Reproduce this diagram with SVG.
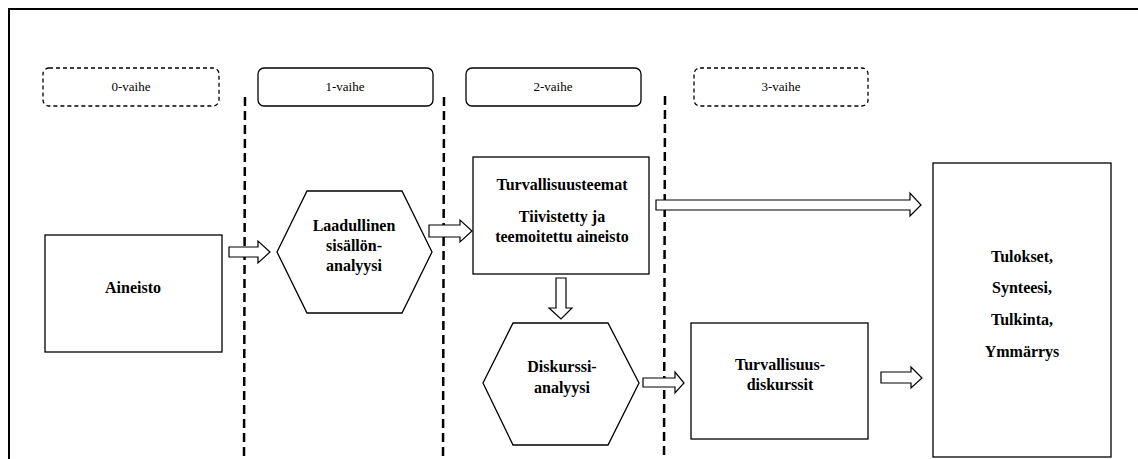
<svg xmlns="http://www.w3.org/2000/svg" width="1138" height="459" viewBox="0 0 1138 459">
<style>
.box{fill:#fff;stroke:#000;stroke-width:1.3}
.ph{fill:#fff;stroke:#000;stroke-width:1.3}
.phd{fill:#fff;stroke:#000;stroke-width:1.3;stroke-dasharray:4 3}
.arr{fill:#fff;stroke:#000;stroke-width:1.2}
.div{stroke:#000;stroke-width:2.5;stroke-dasharray:9 5;fill:none}
text{font-family:'Liberation Serif','Times New Roman',Tinos,'DejaVu Serif',serif;text-anchor:middle;fill:#000}
.t{font-size:13px}
.b{font-size:16px;font-weight:bold}
</style>
<rect x="0" y="0" width="1138" height="459" fill="#fff"/>
<path d="M9,459 V9 H1138" fill="none" stroke="#000" stroke-width="2"/>
<g id="dividers">
<line class="div" x1="245" y1="97" x2="244" y2="459"/>
<line class="div" x1="444" y1="97" x2="443" y2="459"/>
<line class="div" x1="665" y1="96" x2="664" y2="459"/>
</g>
<g id="phase0"><rect class="phd" x="43" y="68" width="176" height="38" rx="6"/><text class="t" x="131" y="91">0-vaihe</text></g>
<g id="phase1"><rect class="ph" x="258" y="68" width="175" height="38" rx="6"/><text class="t" x="345" y="91">1-vaihe</text></g>
<g id="phase2"><rect class="ph" x="466" y="68" width="175" height="38" rx="6"/><text class="t" x="553" y="91">2-vaihe</text></g>
<g id="phase3"><rect class="phd" x="694" y="68" width="174" height="38" rx="6"/><text class="t" x="781" y="91">3-vaihe</text></g>
<g id="connectors">
<polygon class="arr" points="229,247 258,247 258,241 270,252 258,263 258,257 229,257"/>
<polygon class="arr" points="429,225 460,225 460,220 472,231 460,242 460,237 429,237"/>
<polygon class="arr" points="556,278 566,278 566,308 572,308 561,319 549,308 556,308"/>
<polygon class="arr" points="643,378 675,378 675,372 684,383 675,393 675,387 643,387"/>
<polygon class="arr" points="656,200 910,200 910,193 921,205 910,216 910,210 656,210"/>
<polygon class="arr" points="881,372 911,372 911,367 922,378 911,388 911,383 881,383"/>
</g>
<g id="aineisto"><rect class="box" x="45" y="235" width="177" height="117"/><text class="b" x="133" y="293">Aineisto</text></g>
<g id="laadullinen"><polygon class="box" points="277,252 307,191 402,191 432,252 402,313 307,313"/>
<text class="b" x="354" y="231">Laadullinen</text><text class="b" x="354" y="251">sisällön-</text><text class="b" x="354" y="271">analyysi</text></g>
<g id="teemat"><rect class="box" x="473" y="157" width="176" height="117"/>
<text class="b" x="562" y="190">Turvallisuusteemat</text><text class="b" x="562" y="222">Tiivistetty ja</text><text class="b" x="562" y="242">teemoitettu aineisto</text></g>
<g id="diskurssianalyysi"><polygon class="box" points="483,383 513,323 608,323 639,383 608,445 513,445"/>
<text class="b" x="562" y="372">Diskurssi-</text><text class="b" x="562" y="393">analyysi</text></g>
<g id="diskurssit"><rect class="box" x="691" y="323" width="177" height="116"/>
<text class="b" x="780" y="370">Turvallisuus-</text><text class="b" x="780" y="390">diskurssit</text></g>
<g id="tulokset"><rect class="box" x="933" y="163" width="178" height="294"/>
<text class="b" x="1022" y="262">Tulokset,</text><text class="b" x="1022" y="293">Synteesi,</text><text class="b" x="1022" y="325">Tulkinta,</text><text class="b" x="1022" y="357">Ymmärrys</text></g>
</svg>
